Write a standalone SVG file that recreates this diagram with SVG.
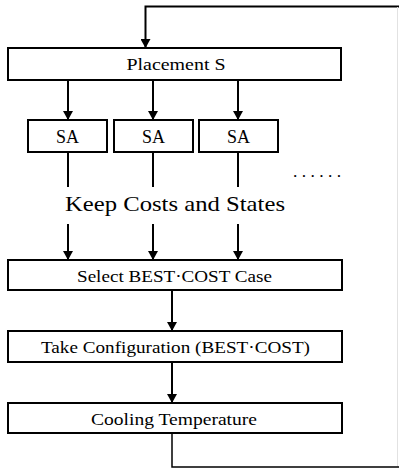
<svg xmlns="http://www.w3.org/2000/svg" width="399" height="469" viewBox="0 0 399 469">
<style>
.box{fill:#fff;stroke:#000;stroke-width:2}
.ln{fill:none;stroke:#000;stroke-width:2}
.t{font-family:"Liberation Serif","Times New Roman",serif;font-size:17.5px;fill:#000;text-anchor:middle}
.big{font-size:22px}
.sa{font-size:18px}
</style>
<defs>
<marker id="ah" markerWidth="9" markerHeight="10" refX="9" refY="5" orient="auto" markerUnits="userSpaceOnUse" viewBox="0 0 9 10">
<path d="M0,0 L9,5 L0,10 Z" fill="#000"/>
</marker>
</defs>
<g id="connectors">
<path class="ln" d="M399,6.5 L145.5,6.5 L145.5,48" marker-end="url(#ah)"/>
<path d="M397.5,7 L397.5,467" stroke="#e2e2e2" stroke-width="1" fill="none"/>
<path class="ln" d="M68,80 L68,120" marker-end="url(#ah)"/>
<path class="ln" d="M153,80 L153,120" marker-end="url(#ah)"/>
<path class="ln" d="M238,80 L238,120" marker-end="url(#ah)"/>
<path class="ln" d="M68,152 L68,187"/>
<path class="ln" d="M153,152 L153,187"/>
<path class="ln" d="M238,152 L238,187"/>
<path class="ln" d="M68,224 L68,260" marker-end="url(#ah)"/>
<path class="ln" d="M153,224 L153,260" marker-end="url(#ah)"/>
<path class="ln" d="M238,224 L238,260" marker-end="url(#ah)"/>
<path class="ln" d="M172,290 L172,331" marker-end="url(#ah)"/>
<path class="ln" d="M172,362 L172,403" marker-end="url(#ah)"/>
<path d="M172,433 L172,467 L399,467" fill="none" stroke="#000" stroke-width="1.5"/>
</g>
<g id="placement">
<rect class="box" x="8" y="48" width="333" height="32"/>
<text class="t" x="176" y="69.5" textLength="99" lengthAdjust="spacingAndGlyphs">Placement S</text>
</g>
<g id="sa1">
<rect class="box" x="28" y="120" width="79" height="32"/>
<text class="t sa" x="67.5" y="143" textLength="23" lengthAdjust="spacingAndGlyphs">SA</text>
</g>
<g id="sa2">
<rect class="box" x="114" y="120" width="79" height="32"/>
<text class="t sa" x="153.5" y="143" textLength="23" lengthAdjust="spacingAndGlyphs">SA</text>
</g>
<g id="sa3">
<rect class="box" x="199" y="120" width="79" height="32"/>
<text class="t sa" x="238.5" y="143" textLength="23" lengthAdjust="spacingAndGlyphs">SA</text>
</g>
<g id="dots">
<text class="t" x="317" y="177" textLength="48" lengthAdjust="spacing">......</text>
</g>
<g id="keep">
<text class="t big" x="175" y="210.5" textLength="220" lengthAdjust="spacingAndGlyphs">Keep Costs and States</text>
</g>
<g id="select">
<rect class="box" x="8" y="260" width="334" height="30"/>
<text class="t" x="174.5" y="281.5" textLength="195" lengthAdjust="spacingAndGlyphs">Select BEST·COST Case</text>
</g>
<g id="take">
<rect class="box" x="8" y="331" width="334" height="31"/>
<text class="t" x="175.5" y="353" textLength="269" lengthAdjust="spacingAndGlyphs">Take Configuration (BEST·COST)</text>
</g>
<g id="cooling">
<rect class="box" x="8" y="403" width="334" height="30"/>
<text class="t" x="174" y="424.5" textLength="166" lengthAdjust="spacingAndGlyphs">Cooling Temperature</text>
</g>
</svg>
